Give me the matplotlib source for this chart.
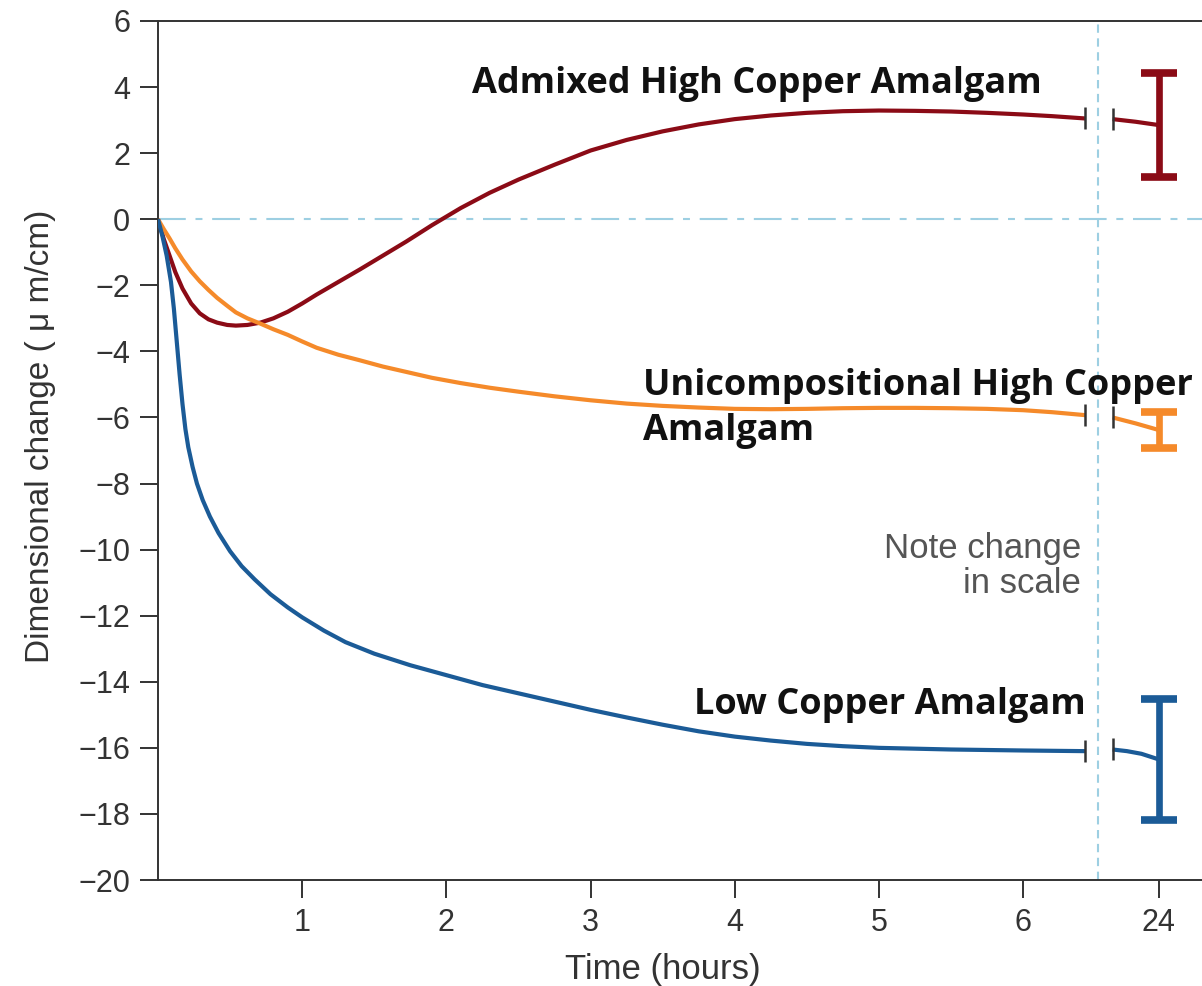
import matplotlib
matplotlib.use("Agg")
import matplotlib.pyplot as plt

# hours 0..6 drawn on a linear axis; the 24 h reading sits past the scale break
hours = [0, 1, 2, 3, 4, 5, 6]
tick_pos = [1, 2, 3, 4, 5, 6, 6.94]
tick_labels = ["1", "2", "3", "4", "5", "6", "24"]
break_left = 6.43
break_right = 6.62
pos_24h = 6.94

# admixed high copper amalgam
t_admixed = [0, 0.04, 0.08, 0.12, 0.17, 0.23, 0.29, 0.35, 0.41, 0.48, 0.54, 0.62, 0.71,
             0.8, 0.9, 1.0, 1.1, 1.25, 1.4, 1.56, 1.72, 1.9, 2.1, 2.3, 2.5, 2.75, 3.0,
             3.25, 3.5, 3.75, 4.0, 4.25, 4.5, 4.75, 5.0, 5.25, 5.5, 5.75, 6.0, 6.2, 6.43]
v_admixed = [0, -0.6, -1.1, -1.6, -2.1, -2.55, -2.85, -3.03, -3.13, -3.2, -3.22, -3.2, -3.13,
             -3.0, -2.8, -2.55, -2.28, -1.9, -1.52, -1.1, -0.68, -0.18, 0.34, 0.8, 1.2, 1.65, 2.08,
             2.4, 2.66, 2.87, 3.03, 3.14, 3.22, 3.27, 3.29, 3.28, 3.26, 3.22, 3.17, 3.12, 3.05]
t_admixed_24 = [break_right, 6.78, pos_24h]
v_admixed_24 = [3.03, 2.95, 2.85]
err_admixed = 1.57

# unicompositional high copper amalgam
t_unicomp = [0, 0.04, 0.08, 0.12, 0.17, 0.23, 0.29, 0.35, 0.41, 0.48, 0.54, 0.62, 0.71,
             0.8, 0.9, 1.0, 1.1, 1.25, 1.4, 1.56, 1.72, 1.9, 2.1, 2.3, 2.5, 2.75, 3.0,
             3.25, 3.5, 3.75, 4.0, 4.25, 4.5, 4.75, 5.0, 5.25, 5.5, 5.75, 6.0, 6.2, 6.43]
v_unicomp = [0, -0.3, -0.58, -0.88, -1.22, -1.58, -1.88, -2.14, -2.38, -2.62, -2.82, -3.0, -3.16,
             -3.33, -3.5, -3.7, -3.89, -4.1, -4.27, -4.46, -4.62, -4.8, -4.96, -5.1, -5.22, -5.36, -5.48,
             -5.58, -5.65, -5.7, -5.74, -5.75, -5.74, -5.72, -5.71, -5.71, -5.72, -5.74, -5.78, -5.84, -5.93]
t_unicomp_24 = [break_right, 6.78, pos_24h]
v_unicomp_24 = [-6.0, -6.18, -6.38]
err_unicomp = 0.55

# low copper amalgam
t_lowcu = [0, 0.03, 0.06, 0.09, 0.11, 0.13, 0.15, 0.17, 0.19, 0.21, 0.24, 0.27, 0.31, 0.36,
           0.42, 0.5, 0.58, 0.67, 0.78, 0.9, 1.0, 1.15, 1.3, 1.5, 1.75, 2.0, 2.25, 2.5, 2.75,
           3.0, 3.25, 3.5, 3.75, 4.0, 4.25, 4.5, 4.75, 5.0, 5.5, 6.0, 6.43]
v_lowcu = [0, -0.5, -1.1, -1.9, -2.7, -3.7, -4.7, -5.6, -6.35, -6.9, -7.5, -8.0, -8.5, -9.0,
           -9.5, -10.05, -10.5, -10.9, -11.35, -11.75, -12.05, -12.45, -12.8, -13.15, -13.5, -13.8, -14.1, -14.35, -14.6,
           -14.85, -15.08, -15.3, -15.5, -15.66, -15.78, -15.88, -15.95, -16.0, -16.05, -16.08, -16.1]
t_lowcu_24 = [break_right, 6.72, 6.82, pos_24h]
v_lowcu_24 = [-16.05, -16.1, -16.18, -16.35]
err_lowcu = 1.82

red = "#8b0b16"
orange = "#f58a2a"
blue = "#1b5b97"
guide = "#9dcfe2"
dark = "#333333"

plt.rcParams["font.family"] = ["Liberation Sans", "DejaVu Sans"]
plt.rcParams["lines.scale_dashes"] = False

fig = plt.figure(figsize=(12.02, 9.86), dpi=100)
ax = fig.add_axes([158 / 1202, 1 - 880 / 986, 1 - 158 / 1202, (880 - 21) / 986])

ax.set_xlim(0, (1202 - 158) / 144.2)
ax.set_ylim(-20, 6)

# reference lines at zero change and at the scale break
ax.axhline(0, color=guide, lw=1.5, dashes=(20, 7, 5, 7), zorder=1)
ax.axvline(6.52, color=guide, lw=1.5, dashes=(6, 4), zorder=1)

series = [
    (t_admixed, v_admixed, t_admixed_24, v_admixed_24, err_admixed, red),
    (t_unicomp, v_unicomp, t_unicomp_24, v_unicomp_24, err_unicomp, orange),
    (t_lowcu, v_lowcu, t_lowcu_24, v_lowcu_24, err_lowcu, blue),
]
for t, v, t24, v24, err, col in series:
    ax.plot(t, v, color=col, lw=3.0, solid_capstyle="butt", solid_joinstyle="round", zorder=3)
    ax.plot(t24, v24, color=col, lw=3.0, solid_capstyle="butt", solid_joinstyle="round", zorder=3)
    # break ticks at the ends of each segment
    ax.plot([t[-1], t24[0]], [v[-1], v24[0]], ls="none", marker="|", ms=16, mew=1.8,
            color=dark, zorder=4)
    ax.errorbar([t24[-1]], [v24[-1]], yerr=[err], fmt="none", ecolor=col, elinewidth=4.8,
                capsize=13, capthick=5.5, zorder=4)

ax.spines["right"].set_visible(False)
for side in ["left", "top", "bottom"]:
    ax.spines[side].set_color(dark)
    ax.spines[side].set_linewidth(1.4)

ax.set_xticks(tick_pos)
ax.set_xticklabels(tick_labels)
ax.set_yticks(range(-20, 7, 2))
ax.set_yticklabels([str(v).replace("-", "\u2212") for v in range(-20, 7, 2)])
ax.tick_params(axis="both", direction="out", length=13, width=1.4, color=dark,
               labelsize=22, labelcolor=dark, pad=7)

ax.set_xlabel("Time (hours)", fontsize=25, color=dark)
ax.xaxis.set_label_coords(0.484, -0.085)
ax.set_ylabel("Dimensional change ( \u03bc m/cm)", fontsize=24, color=dark)
ax.yaxis.set_label_coords(-0.098, 0.516)

label_font = dict(family=["Open Sans", "DejaVu Sans"], fontweight="bold", fontsize=26,
                  color="#111111")
ax.text(2.18, 4.1, "Admixed High Copper Amalgam", ha="left", va="center", **label_font)
ax.text(3.36, -5.05, "Unicompositional High Copper", ha="left", va="center", **label_font)
ax.text(3.36, -6.4, "Amalgam", ha="left", va="center", **label_font)
ax.text(3.72, -14.7, "Low Copper Amalgam", ha="left", va="center", **label_font)

ax.text(6.4, -10.5, "Note change\nin scale", ha="right", va="center", fontsize=25,
        color="#555555", linespacing=1.05)

fig.savefig("out.png", dpi=100)
